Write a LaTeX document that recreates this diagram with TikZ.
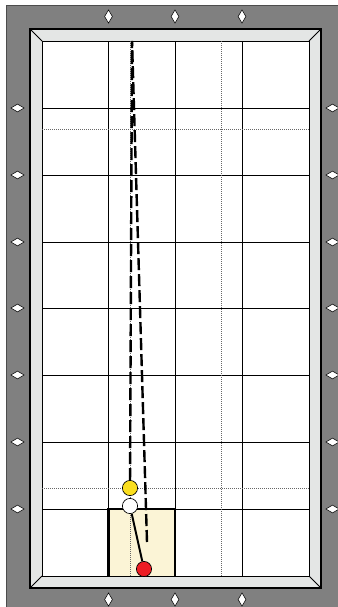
\documentclass[tikz,border=0pt]{standalone}
\usepackage{tikz}
\usetikzlibrary{shapes.geometric}
\definecolor{railgray}{RGB}{128,128,128}
\definecolor{cushion}{RGB}{228,230,229}
\definecolor{baulk}{RGB}{251,244,214}
\definecolor{ballred}{RGB}{237,28,36}
\definecolor{ballyellow}{RGB}{250,222,30}
\tikzset{
  sighttall/.style={diamond,draw=black,fill=white,line width=0.4pt,inner sep=0pt,minimum width=6pt,minimum height=10pt},
  sightflat/.style={diamond,draw=black,fill=white,line width=0.4pt,inner sep=0pt,minimum width=10pt,minimum height=6pt},
  ball/.style={circle,draw=black,line width=0.5pt,inner sep=0pt,minimum size=11.4pt},
  gridline/.style={black,line width=0.75pt},
  dotline/.style={black!60,line width=0.65pt,dash pattern=on 0.8pt off 0.7pt},
  shotline/.style={black,line width=1.8pt,dash pattern=on 9pt off 3pt},
}
\begin{document}
\begin{tikzpicture}[x=0.75pt,y=-0.75pt]

    \useasboundingbox (0,0) rectangle (337,607);

    % outer rail

    \fill[white] (0,0) rectangle (337,607);
    \fill[railgray,draw=black!70,line width=0.6pt] (6,5.5) rectangle (340,610);

    % cushions and table bed

    \fill[cushion,draw=black,line width=0.8pt] (30,29) rectangle (321,588);
    \fill[white,draw=black,line width=0.75pt] (42,41) rectangle (309,576);
    \draw[black,line width=0.75pt] (30,29) -- (42,41);
    \draw[black,line width=0.75pt] (321,29) -- (309,41);
    \draw[black,line width=0.75pt] (30,588) -- (42,576);
    \draw[black,line width=0.75pt] (321,588) -- (309,576);

    % baulk box

    \fill[baulk] (108.5,509) rectangle (175,576);

    % grid

    \foreach \x in {108.5,175,242}{
      \draw[gridline] (\x,41) -- (\x,576);
    }
    \foreach \y in {108,175,242,308,375,442,509}{
      \draw[gridline] (42,\y) -- (309,\y);
    }
    \draw[black,line width=1.8pt] (108.5,576) -- (108.5,509) -- (175,509) -- (175,576);

    % dotted sight lines

    \draw[dotline] (42,129) -- (309,129);
    \draw[dotline] (42,488) -- (309,488);
    \draw[dotline] (221,41) -- (221,576);
    \draw[dotline] (130.5,41) -- (130.5,576);

    % diamonds on the rail

    \foreach \x/\n in {108.5/a,175/b,242/c}{
      \node[sighttall] (top\n) at (\x,16.5) {};
      \node[sighttall] (bot\n) at (\x,599.5) {};
    }
    \foreach \y/\n in {108/a,175/b,242/c,308/d,375/e,442/f,509/g}{
      \node[sightflat] (left\n) at (17.5,\y) {};
      \node[sightflat] (right\n) at (332.5,\y) {};
    }

    % balls and shots

    \coordinate (topend) at (132,41);
    \coordinate (aimend) at (147,542);
    \node[ball,fill=ballred] (red) at (144,569) {};
    \node[ball,fill=white] (cue) at (130,506) {};
    \node[ball,fill=ballyellow] (yellow) at (130,488) {};

    \draw[shotline] (aimend) -- (topend);
    \draw[shotline] (yellow) -- (topend);
    \draw[black,line width=1.5pt] (cue) -- (red);

  \end{tikzpicture}
\end{document}
